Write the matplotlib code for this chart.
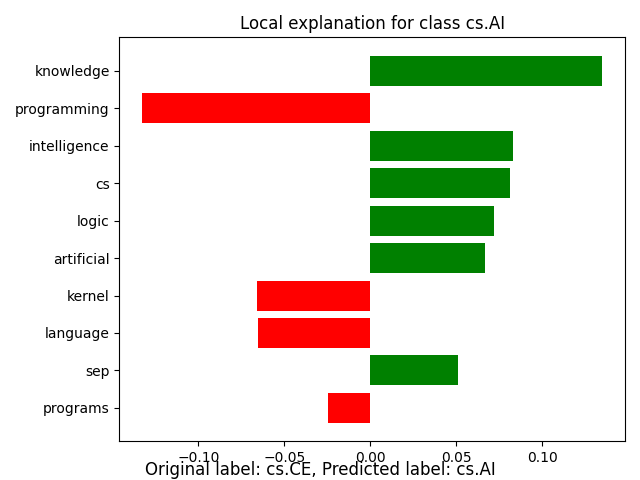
import matplotlib
matplotlib.use("Agg")
import matplotlib.pyplot as plt
import numpy as np

features = ["knowledge", "programming", "intelligence", "cs", "logic",
            "artificial", "kernel", "language", "sep", "programs"]
weights = [0.1349, -0.1326, 0.0831, 0.0814, 0.0721,
           0.0669, -0.0657, -0.0651, 0.0512, -0.0244]

vals = weights[::-1]
names = features[::-1]
colors = ["green" if v > 0 else "red" for v in vals]
pos = np.arange(len(vals)) + 0.5

fig = plt.figure(figsize=(6.4, 4.8), dpi=100)
ax = fig.add_subplot(111)
ax.barh(pos, vals, align="center", color=colors)
ax.set_yticks(pos)
ax.set_yticklabels(names)
ax.set_title("Local explanation for class cs.AI")
fig.tight_layout()
fig.text(0.5, 0.01, "Original label: cs.CE, Predicted label: cs.AI", ha="center", fontsize=12)
fig.savefig("out.png")
